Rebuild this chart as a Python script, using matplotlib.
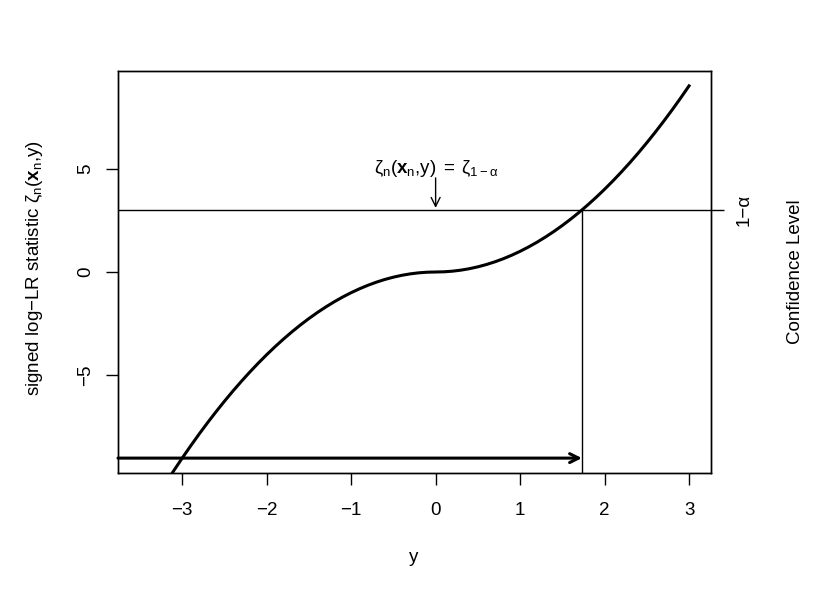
import numpy as np
import matplotlib
matplotlib.use("Agg")
import matplotlib.pyplot as plt

plt.rcParams['font.family'] = ['Liberation Sans', 'DejaVu Sans']
plt.rcParams['mathtext.fontset'] = 'custom'
plt.rcParams['mathtext.rm'] = 'Liberation Sans'
plt.rcParams['mathtext.it'] = 'Liberation Sans'
plt.rcParams['mathtext.bf'] = 'Liberation Sans:bold'

# y grid and signed log-LR statistic
y_vals = np.round(np.linspace(-3.5, 3.0, 66), 1)
stat_vals = [-12.25, -11.56, -10.89, -10.24, -9.61, -9.00, -8.41, -7.84, -7.29, -6.76,
             -6.25, -5.76, -5.29, -4.84, -4.41, -4.00, -3.61, -3.24, -2.89, -2.56,
             -2.25, -1.96, -1.69, -1.44, -1.21, -1.00, -0.81, -0.64, -0.49, -0.36,
             -0.25, -0.16, -0.09, -0.04, -0.01, 0.00, 0.01, 0.04, 0.09, 0.16,
             0.25, 0.36, 0.49, 0.64, 0.81, 1.00, 1.21, 1.44, 1.69, 1.96,
             2.25, 2.56, 2.89, 3.24, 3.61, 4.00, 4.41, 4.84, 5.29, 5.76,
             6.25, 6.76, 7.29, 7.84, 8.41, 9.00]
conf_level = 3.0      # zeta_{1-alpha}
cut_y = 1.732         # where the curve crosses the level
arrow_level = -9.0
label_y = 5.0
x_ticks = [-3, -2, -1, 0, 1, 2, 3]
y_ticks = [-5, 0, 5]

FS = 13.5
W, H = 830, 593
fig = plt.figure(figsize=(W / 100, H / 100), dpi=100)
ax = fig.add_axes([118 / W, 1 - 473 / H, (711 - 118) / W, (473 - 71) / H])

ax.plot(y_vals, stat_vals, color='black', lw=2.2, solid_joinstyle='round')
ax.set_xlim(-3.76, 3.26)
ax.set_ylim(-9.72, 9.72)

ax.axhline(conf_level, color='black', lw=1)
ax.vlines(cut_y, ax.get_ylim()[0], conf_level, color='black', lw=1)
ax.annotate('', xy=(cut_y, arrow_level), xytext=(ax.get_xlim()[0], arrow_level),
            arrowprops=dict(arrowstyle='->', lw=2.2, color='black',
                            shrinkA=0, shrinkB=0, mutation_scale=16))
ax.annotate('', xy=(0, conf_level + 0.1), xytext=(0, label_y - 0.45),
            arrowprops=dict(arrowstyle='->', lw=1, color='black',
                            shrinkA=0, shrinkB=0, mutation_scale=16))
ax.text(0, label_y, r'$\zeta_\mathrm{n}(\mathbf{x}_\mathrm{n}{,}y)\;=\;\zeta_{1-\alpha}$',
        ha='center', va='center', fontsize=FS)

ax.set_xticks(x_ticks)
ax.set_xticklabels([str(t).replace('-', '\u2212') for t in x_ticks])
ax.set_yticks(y_ticks)
ax.set_yticklabels([str(t).replace('-', '\u2212') for t in y_ticks],
                   rotation=90, va='center')
ax.tick_params(length=8.6, width=1, labelsize=FS, pad=8.8)
ax.tick_params(axis='x', pad=12)

ax2 = ax.twinx()
ax2.set_ylim(ax.get_ylim())
ax2.set_yticks([conf_level])
ax2.set_yticklabels(['1\u2212\u03b1'], rotation=90, va='center')
ax2.tick_params(length=9, width=1, labelsize=FS, pad=8.8)

# axis titles placed like the reference margins
fig.text(414 / W, 1 - 557 / H, 'y', ha='center', va='center', fontsize=FS)
fig.text(35 / W, 1 - 268 / H,
         r'signed log$-$LR statistic $\zeta_\mathrm{n}(\mathbf{x}_\mathrm{n}{,}y)$',
         rotation=90, ha='center', va='center', fontsize=FS)
fig.text(795 / W, 1 - 272 / H, 'Confidence Level', rotation=90,
         ha='center', va='center', fontsize=FS)

for a in (ax, ax2):
    for s in a.spines.values():
        s.set_linewidth(1)

fig.savefig('out.png', dpi=100)
